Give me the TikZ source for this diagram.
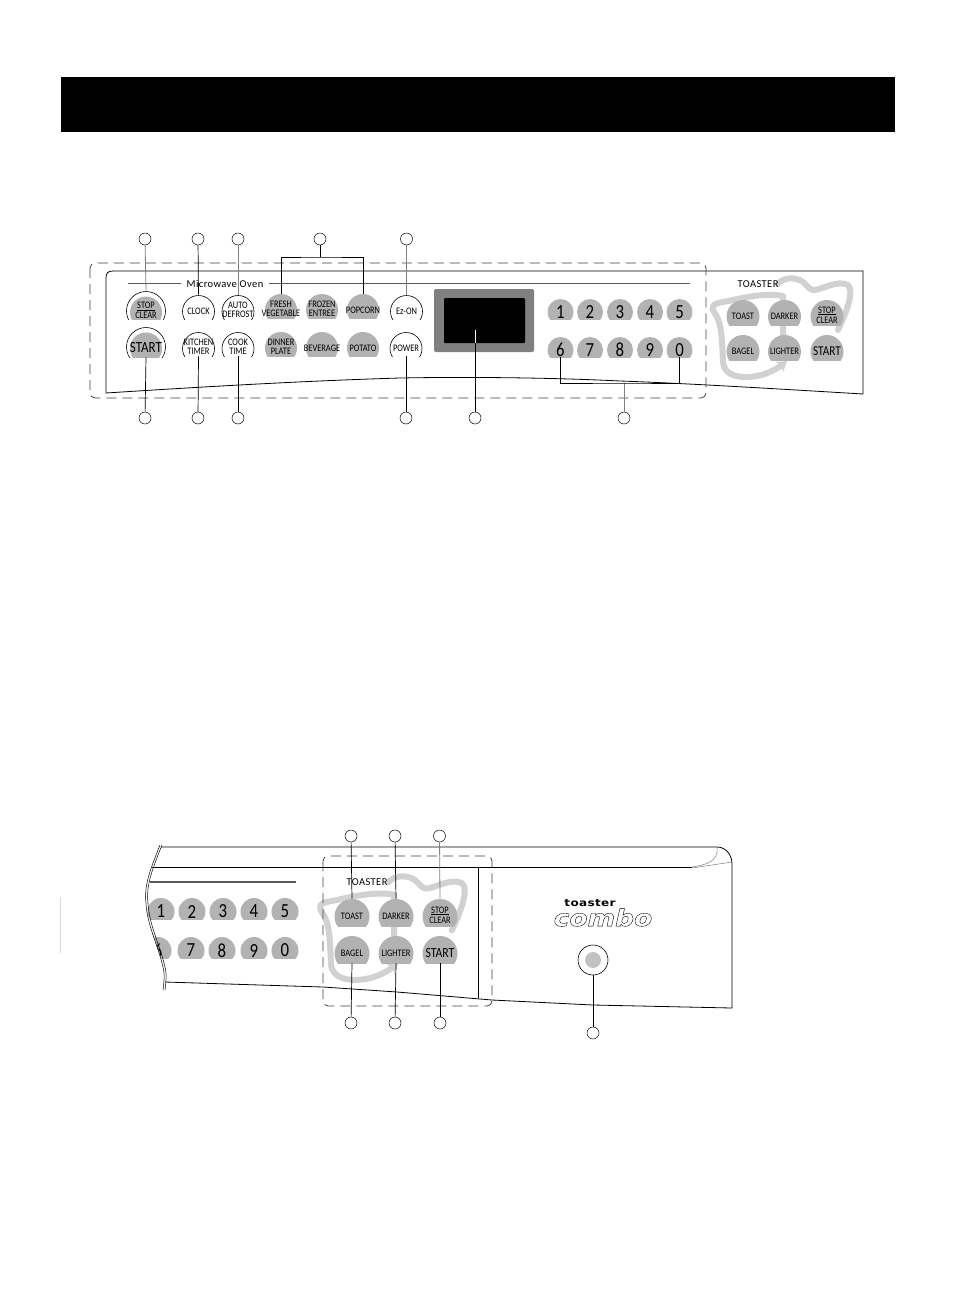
\documentclass[tikz,border=0pt]{standalone}
\usepackage{fontspec}
\setmainfont{Carlito}
\newfontfamily\logofont{DejaVu Sans}
\newfontfamily\keyfont[FakeStretch=0.84]{Carlito}
\usetikzlibrary{arrows.meta}
\newcommand{\outlinetext}[1]{\special{pdf:literal direct 1 Tr 0.35 w}#1\special{pdf:literal direct 0 Tr}}
\tikzset{
	greybtn/.style 2 args={rectangle,inner sep=0,minimum width=2*#1 pt,minimum height=#2 pt,
		path picture={\fill[keygrey] ([yshift=-#1 pt]path picture bounding box.north) circle (#1 pt);}},
	whitebtn/.style 2 args={rectangle,inner sep=0,minimum width=2*#1 pt+1pt,minimum height=#2 pt,
		path picture={\draw[line width=0.6pt] ([yshift=-#1 pt-0.5pt]path picture bounding box.north) circle (#1 pt);}},
	ringbtn/.style={rectangle,inner sep=0,minimum width=40pt,minimum height=#1 pt,
		path picture={\draw[line width=0.6pt] ([yshift=-20pt]path picture bounding box.north) circle (19.5pt);
			\fill[keygrey] ([yshift=-21.5pt]path picture bounding box.north) circle (16pt);}},
	bread/.pic={
		\draw[swirl,-{Stealth[length=10pt,width=13pt]}] (714,312) .. controls (722,322) and (722,340) .. (723,362)
			.. controls (724,376) and (740,379) .. (757,376) .. controls (768,374) and (778,368) .. (787,361);
		\draw[swirl] (714,312) .. controls (708,302) and (722,303) .. (733,300) .. controls (750,296) and (770,293) .. (783,296) -- (783,335);
		\draw[swirl] (778,284) .. controls (782,278) and (795,276) .. (803,282) .. controls (808,286) and (810,291) .. (815,290)
			.. controls (825,288) and (838,280) .. (848,285) .. controls (855,292) and (845,315) .. (838,330);
	}
}
\begin{document}
\begin{tikzpicture}[x=1pt,y=-1pt,line width=0.7pt]
	\definecolor{keygrey}{gray}{0.70}
	\definecolor{swirlgrey}{gray}{0.82}
	\tikzstyle{round}=[draw=black,circle,minimum size=12pt,inner sep=0,line width=0.5pt]
	\tikzstyle{swirl}=[draw=swirlgrey,line width=6pt,line cap=round,line join=round]
	\tikzstyle{lead}=[line width=0.7pt,draw=black]
	\tikzstyle{softlead}=[line width=0.8pt,draw=black!50]
	\tikzstyle{rim}=[draw=black!65,line width=1pt]
	\tikzstyle{zone}=[draw=black!75,line width=0.8pt,dash pattern=on 10pt off 6pt,rounded corners=5pt]
	\tikzstyle{keytxt}=[inner sep=0,align=center,yshift=-4pt,font=\keyfont\fontsize{10}{9.2}\selectfont]
	\tikzstyle{pairtxt}=[keytxt,yshift=1.5pt]
	\tikzstyle{bigtxt}=[inner sep=0,font=\keyfont\fontsize{15.5}{15.5}\selectfont]
	\tikzstyle{numtxt}=[inner sep=0,yshift=-3pt,font=\keyfont\fontsize{20}{20}\selectfont]
	\tikzstyle{headtxt}=[inner sep=0,font=\fontsize{10.5}{10.5}\selectfont\addfontfeatures{LetterSpace=4}]
	\useasboundingbox (0,0) rectangle (954,1307);
	\fill[white] (0,0) rectangle (954,1307);
	\node[fill=black,inner sep=0,minimum width=834pt,minimum height=55pt] (banner) at (478,104.5) {};
	% upper panel
	\pic at (0,0) {bread};
	\draw[line width=0.8pt] (113,271) -- (863,271) -- (863,394) .. controls (780,389) and (680,383) .. (620,381)
		.. controls (540,377) and (450,377) .. (400,378) .. controls (300,381) and (200,387) .. (106,393) -- (106,278)
		.. controls (106,273) and (108,271) .. (113,271);
	\draw[zone] (90,263) rectangle (706,398);
	\coordinate (mwleft) at (128,283);
	\coordinate (mwstop) at (181,283);
	\coordinate (mwstart) at (269,283);
	\coordinate (mwend) at (690,283);
	\draw[rim,line width=0.7pt] (mwleft) -- (mwstop);
	\draw[rim,line width=0.7pt] (mwstart) -- (mwend);
	\node[headtxt] (mwtitle) at (225,284) {Microwave Oven};
	\node[headtxt] (toastertitle) at (758,284) {TOASTER};
	\node[ringbtn=28,label={[pairtxt,yshift=-3pt]center:{\underline{STOP}\\[1pt]CLEAR}}] (stopclear) at (146,305) {};
	\node[ringbtn=30,label={[bigtxt,yshift=-6pt]center:START}] (start) at (146,342) {};
	\node[whitebtn={16}{24},label={[keytxt]center:CLOCK}] (clock) at (198.5,307) {};
	\node[whitebtn={16}{24},label={[pairtxt]center:{AUTO\\DEFROST}}] (auto) at (238,307) {};
	\node[greybtn={16}{24},label={[pairtxt]center:{FRESH\\VEGETABLE}}] (fresh) at (281,306) {};
	\node[greybtn={16}{24},label={[pairtxt]center:{FROZEN\\ENTREE}}] (frozen) at (322,306) {};
	\node[greybtn={16}{24},label={[keytxt]center:POPCORN}] (popcorn) at (363,306) {};
	\node[whitebtn={16}{24},label={[keytxt]center:Ez-ON}] (ezon) at (406.5,307) {};
	\node[whitebtn={16}{24},label={[pairtxt]center:{KITCHEN\\TIMER}}] (kitchen) at (198.5,344) {};
	\node[whitebtn={16}{24},label={[pairtxt]center:{COOK\\TIME}}] (cook) at (238,344) {};
	\node[greybtn={16}{24},label={[pairtxt]center:{DINNER\\PLATE}}] (dinner) at (281,344) {};
	\node[greybtn={16}{24},label={[keytxt]center:BEVERAGE}] (beverage) at (322,344) {};
	\node[greybtn={16}{24},label={[keytxt]center:POTATO}] (potato) at (363,344) {};
	\node[whitebtn={16}{24},label={[keytxt]center:POWER}] (power) at (406,344) {};
	\node[fill=black!50,rounded corners=2pt,inner sep=0,minimum width=100pt,minimum height=63pt] (screen) at (484,320.5) {};
	\node[fill=black,rounded corners=1pt,inner sep=0,minimum width=81pt,minimum height=45pt] (display) at (484.5,320.5) {};
	\node[greybtn={13}{20},label={[numtxt]center:1}] (one) at (560.5,309) {};
	\node[greybtn={13}{20},label={[numtxt]center:2}] (two) at (590,309) {};
	\node[greybtn={13}{20},label={[numtxt]center:3}] (three) at (620,309) {};
	\node[greybtn={13}{20},label={[numtxt]center:4}] (four) at (650,309) {};
	\node[greybtn={13}{20},label={[numtxt]center:5}] (five) at (679.5,309) {};
	\node[greybtn={13}{20},label={[numtxt]center:6}] (six) at (560.5,347) {};
	\node[greybtn={13}{20},label={[numtxt]center:7}] (seven) at (590,347) {};
	\node[greybtn={13}{20},label={[numtxt]center:8}] (eight) at (620,347) {};
	\node[greybtn={13}{20},label={[numtxt]center:9}] (nine) at (650,347) {};
	\node[greybtn={13}{20},label={[numtxt]center:0}] (zero) at (679.5,347) {};
	\node[greybtn={16.5}{25},label={[keytxt]center:TOAST}] (toast) at (743,312.5) {};
	\node[greybtn={16.5}{25},label={[keytxt]center:DARKER}] (darker) at (784.5,312.5) {};
	\node[greybtn={16.5}{25},label={[pairtxt]center:{\underline{STOP}\\[1pt]CLEAR}}] (stoptoast) at (827,312.5) {};
	\node[greybtn={16.5}{25},label={[keytxt]center:BAGEL}] (bagel) at (743,347.5) {};
	\node[greybtn={16.5}{25},label={[keytxt]center:LIGHTER}] (lighter) at (784.5,347.5) {};
	\node[greybtn={16.5}{25},label={[bigtxt,yshift=-4pt,font=\keyfont\fontsize{13.5}{13.5}\selectfont]center:START}] (starttoast) at (827,347.5) {};
	\node[round] (a1) at (145,239) {};
	\node[round] (a2) at (198,239) {};
	\node[round] (a3) at (238,239) {};
	\node[round] (a4) at (320,239) {};
	\node[round] (a5) at (406.5,239) {};
	\node[round] (b1) at (145,418) {};
	\node[round] (b2) at (198,418) {};
	\node[round] (b3) at (238,418) {};
	\node[round] (b4) at (406,418) {};
	\node[round] (b5) at (475,418) {};
	\node[round] (b6) at (624,418) {};
	\coordinate (brtop) at (320,257);
	\coordinate (brright) at (624,383);
	\coordinate (dispin) at (475,330);
	\draw[softlead] (a1) -- (stopclear.north);
	\draw[lead] (a2) -- (clock.north);
	\draw[softlead] (a3) -- (auto.north);
	\draw[lead] (a4) -- (brtop);
	\draw[lead] (fresh.north) |- (brtop) -| (popcorn.north);
	\draw[softlead] (a5) -- (ezon.north);
	\draw[lead] (b1) -- (start.south);
	\draw[lead] (b2) -- (kitchen.south);
	\draw[lead] (b3) -- (cook.south);
	\draw[lead] (b4) -- (power.south);
	\draw[lead] (b5) -- (dispin -| b5);
	\draw[draw=white,line width=0.7pt] (dispin) -- (display.south -| dispin);
	\draw[softlead] (b6) -- (brright);
	\draw[lead] (six.south) |- (brright) -| (zero.south);
	% lower panel
	\node[greybtn={13.5}{21},label={[numtxt]center:1}] (oneb) at (161,908.5) {};
	\node[greybtn={13.5}{21},label={[numtxt]center:2}] (twob) at (192,908.5) {};
	\node[greybtn={13.5}{21},label={[numtxt]center:3}] (threeb) at (223,908.5) {};
	\node[greybtn={13.5}{21},label={[numtxt]center:4}] (fourb) at (254,908.5) {};
	\node[greybtn={13.5}{21},label={[numtxt]center:5}] (fiveb) at (285,908.5) {};
	\node[greybtn={13.5}{21},label={[numtxt]center:6}] (sixb) at (158,947.5) {};
	\node[greybtn={13.5}{21},label={[numtxt]center:7}] (sevenb) at (191,947.5) {};
	\node[greybtn={13.5}{21},label={[numtxt]center:8}] (eightb) at (222,947.5) {};
	\node[greybtn={13.5}{21},label={[numtxt]center:9}] (nineb) at (254,947.5) {};
	\node[greybtn={13.5}{21},label={[numtxt]center:0}] (zerob) at (285,947.5) {};
	\fill[white] (100,840) -- (160,845) .. controls (150,870) and (144,885) .. (146,903) .. controls (147,925) and (158,945) .. (163,967)
		.. controls (165,975) and (164,982) .. (163,990) -- (100,990) -- cycle;
	\draw[line width=0.5pt] (160,845) .. controls (150,870) and (144,885) .. (146,903) .. controls (147,925) and (158,945) .. (163,967)
		.. controls (165,975) and (164,982) .. (163,990);
	\draw[line width=0.5pt] (162,845) .. controls (152,870) and (146,885) .. (148,903) .. controls (149,925) and (160,945) .. (165,967)
		.. controls (167,975) and (166,982) .. (165,990);
	\draw[draw=black!15,line width=0.4pt] (60,897) -- (60,953);
	\pic[scale=1.05] at (-428.15,584) {bread};
	\draw[line width=0.8pt] (161,847) -- (717,847) .. controls (726,847) and (732,855) .. (732,864) -- (732,1008) -- (593,1005)
		-- (492,1000) -- (397,992) -- (323,987) -- (165,982);
	\draw[line width=0.8pt] (152,867) -- (692,867);
	\draw[draw=black!50,line width=0.5pt] (692,868) -- (732,862);
	\draw[draw=black!50,line width=0.5pt] (692,867) .. controls (705,865) and (719,862) .. (717,847);
	\draw[line width=0.8pt] (478,867) -- (478,998);
	\coordinate (mwlowleft) at (150,882);
	\coordinate (mwlowright) at (296,882);
	\draw[rim,line width=1.3pt] (mwlowleft) -- (mwlowright);
	\draw[zone] (323,856) rectangle (492,1006);
	\node[headtxt] (toastertitleb) at (367,882) {TOASTER};
	\node[greybtn={17.5}{27},label={[keytxt]center:TOAST}] (toastb) at (352,912.5) {};
	\node[greybtn={17.5}{27},label={[keytxt]center:DARKER}] (darkerb) at (396,912.5) {};
	\node[greybtn={17.5}{27},label={[pairtxt]center:{\underline{STOP}\\[1pt]CLEAR}}] (stopb) at (440,912.5) {};
	\node[greybtn={17.5}{27},label={[keytxt]center:BAGEL}] (bagelb) at (352,949.5) {};
	\node[greybtn={17.5}{27},label={[keytxt]center:LIGHTER}] (lighterb) at (396,949.5) {};
	\node[greybtn={17.5}{27},label={[bigtxt,yshift=-3.5pt,font=\keyfont\fontsize{14}{14}\selectfont]center:START}] (startb) at (440,949.5) {};
	\node[inner sep=0,font=\logofont\bfseries\fontsize{10}{10}\selectfont\addfontfeatures{LetterSpace=3},xscale=1.2] (logotop) at (590,903.5) {toaster};
	\node[inner sep=0,font=\logofont\bfseries\itshape\fontsize{23}{23}\selectfont,xscale=1.15] (logocombo) at (603,917.5) {\outlinetext{combo}};
	\node[circle,draw=black,line width=0.6pt,minimum size=30pt,inner sep=0] (dial) at (593,960) {};
	\node[circle,fill=black!24,minimum size=16pt,inner sep=0] (dialin) at (dial) {};
	\node[round] (c1) at (351,836) {};
	\node[round] (c2) at (395,836) {};
	\node[round] (c3) at (439.5,836) {};
	\node[round] (d1) at (351,1023) {};
	\node[round] (d2) at (395,1023) {};
	\node[round] (d3) at (440,1023) {};
	\node[round] (d4) at (593,1033) {};
	\draw[lead] (c1) -- (toastb.north);
	\draw[lead] (c2) -- (darkerb.north);
	\draw[softlead] (c3) -- (stopb.north);
	\draw[lead] (d1) -- (bagelb.south);
	\draw[lead] (d2) -- (lighterb.south);
	\draw[lead] (d3) -- (startb.south);
	\draw[lead] (d4) -- (dial);
\end{tikzpicture}
\end{document}
